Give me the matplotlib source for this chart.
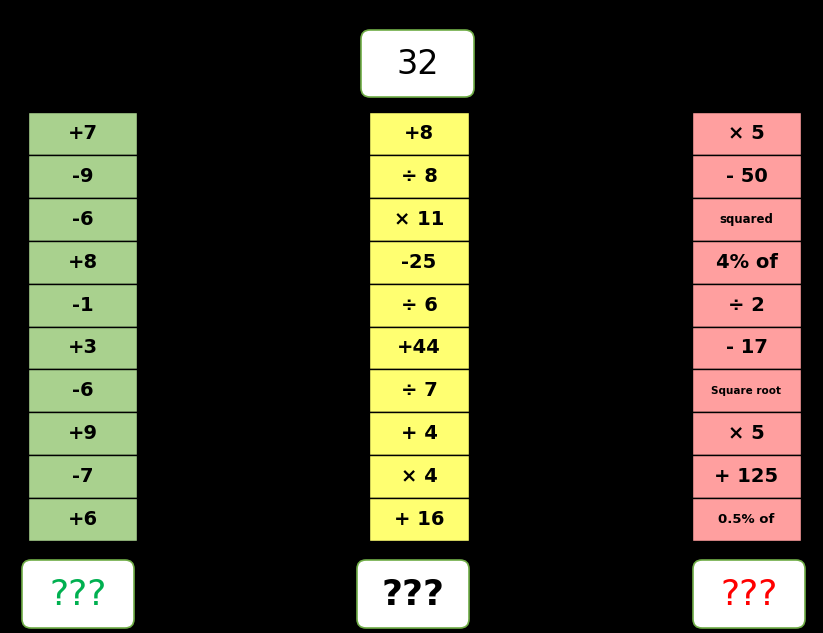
import matplotlib
matplotlib.use("Agg")
import matplotlib.pyplot as plt
from matplotlib.patches import Rectangle, FancyBboxPatch

green_ops = ["+7","-9","-6","+8","-1","+3","-6","+9","-7","+6"]
yellow_ops = ["+8","÷ 8","× 11","-25","÷ 6","+44","÷ 7","+ 4","× 4","+ 16"]
red_ops = ["× 5","- 50","squared","4% of","÷ 2","- 17","Square root","× 5","+ 125","0.5% of"]
start_value = "32"

fig = plt.figure(figsize=(8.23, 6.33), dpi=100, facecolor="black")
ax = fig.add_axes([0, 0, 1, 1])
ax.set_xlim(0, 823); ax.set_ylim(633, 0); ax.axis("off")
ax.set_facecolor("black")

top, bottom = 112, 541
h = (bottom - top) / 10
cols = [(28, 137, "#a9d18e", green_ops), (369, 469, "#ffff71", yellow_ops), (692, 801, "#ff9f9f", red_ops)]
small = {"squared": 8.5, "Square root": 7.5, "0.5% of": 9.5}
for x0, x1, c, ops in cols:
    for i, op in enumerate(ops):
        y = top + i * h
        ax.add_patch(Rectangle((x0, y), x1 - x0, h, facecolor=c, edgecolor="black", lw=1))
        ax.text((x0 + x1) / 2, y + h / 2, op, ha="center", va="center",
                fontsize=small.get(op, 14), fontweight="bold", color="black")

def rbox(x0, x1, y0, y1, txt, color, size, weight):
    ax.add_patch(FancyBboxPatch((x0, y0), x1 - x0, y1 - y0, boxstyle="round,pad=0,rounding_size=9",
                                facecolor="white", edgecolor="#70ad47", lw=1.2))
    ax.text((x0 + x1) / 2, (y0 + y1) / 2 + 1, txt, ha="center", va="center",
            fontsize=size, fontweight=weight, color=color)

rbox(361, 474, 30, 97, start_value, "black", 24, "normal")
rbox(22, 134, 560, 628, "???", "#00b050", 26, "normal")
rbox(357, 469, 560, 628, "???", "black", 26, "bold")
rbox(693, 805, 560, 628, "???", "red", 26, "normal")

fig.savefig("out.png", dpi=100, facecolor="black")
